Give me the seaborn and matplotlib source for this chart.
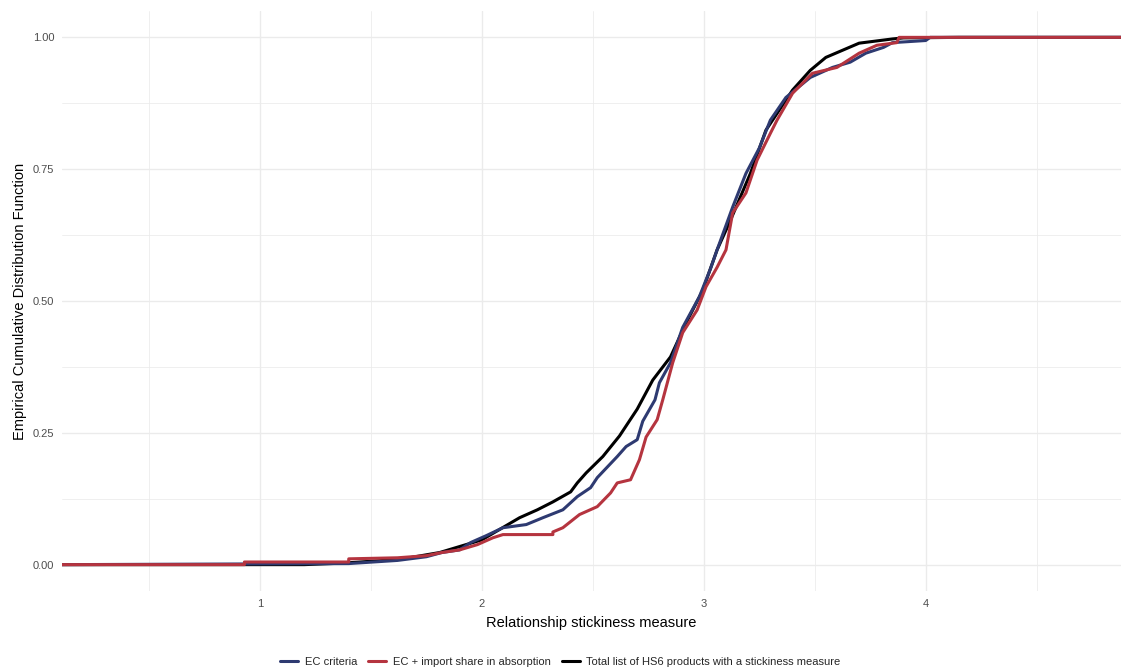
import numpy as np
import pandas as pd
import matplotlib
matplotlib.use("Agg")
import matplotlib.pyplot as plt
import seaborn as sns

# ECDF curve vertices (x = stickiness, y = cumulative share)
black_x = [1.20, 1.38, 1.63, 1.81, 2.00, 2.17, 2.25, 2.32, 2.40, 2.43, 2.47, 2.545, 2.62, 2.70,
           2.77, 2.85, 2.92, 2.995, 3.06, 3.12, 3.21, 3.28, 3.40, 3.48, 3.55, 3.70, 3.85, 3.90, 4.15]
black_y = [0.0, 0.003, 0.010, 0.023, 0.047, 0.089, 0.104, 0.119, 0.138, 0.155, 0.174, 0.205, 0.244, 0.295,
           0.35, 0.394, 0.458, 0.52, 0.597, 0.653, 0.742, 0.824, 0.90, 0.9375, 0.962, 0.989, 0.997, 0.999, 1.0]

blue_x = [1.40, 1.62, 1.75, 1.82, 1.90, 1.95, 2.02, 2.095, 2.20, 2.275, 2.365, 2.43, 2.49, 2.52, 2.61,
          2.65, 2.70, 2.725, 2.78, 2.80, 2.85, 2.905, 2.98, 3.03, 3.06, 3.13, 3.19, 3.25, 3.30, 3.37,
          3.48, 3.58, 3.66, 3.73, 3.81, 3.85, 4.0, 4.02, 4.15]
blue_y = [0.002, 0.008, 0.015, 0.023, 0.028, 0.042, 0.055, 0.07, 0.076, 0.089, 0.104, 0.129, 0.146, 0.165, 0.205,
          0.224, 0.237, 0.272, 0.3125, 0.345, 0.383, 0.45, 0.508, 0.561, 0.597, 0.678, 0.742, 0.79, 0.843, 0.886,
          0.924, 0.943, 0.953, 0.97, 0.981, 0.99, 0.994, 1.0, 1.0]

red_x = [0.93, 0.93, 1.40, 1.40, 1.62, 1.75, 1.82, 1.90, 1.98, 2.05, 2.095, 2.32, 2.32, 2.365, 2.44, 2.52,
         2.58, 2.61, 2.67, 2.71, 2.74, 2.79, 2.815, 2.86, 2.905, 2.97, 3.01, 3.06, 3.10, 3.13, 3.19, 3.24,
         3.30, 3.33, 3.40, 3.49, 3.60, 3.70, 3.78, 3.87, 3.88]
red_y = [0.0, 0.005, 0.005, 0.011, 0.013, 0.017, 0.023, 0.028, 0.038, 0.051, 0.057, 0.057, 0.062, 0.07, 0.095, 0.11,
         0.136, 0.155, 0.161, 0.199, 0.242, 0.275, 0.3125, 0.383, 0.44, 0.483, 0.527, 0.564, 0.597, 0.667, 0.705, 0.767,
         0.818, 0.843, 0.894, 0.932, 0.943, 0.97, 0.985, 0.99, 1.0]

labels = ["EC criteria", "EC + import share in absorption",
          "Total list of HS6 products with a stickiness measure"]
colors = ["#2E3A71", "#B5343F", "#000000"]

x_ticks = [1, 2, 3, 4]
y_ticks = [0.0, 0.25, 0.5, 0.75, 1.0]
y_ticklabels = ["0.00", "0.25", "0.50", "0.75", "1.00"]
XLIM = (0.108, 4.88)
YLIM = (-0.05, 1.05)

sns.set_theme(style="whitegrid")
plt.rcParams['font.family'] = ['Liberation Sans', 'DejaVu Sans']

fig = plt.figure(figsize=(11.21, 6.69), dpi=100)
ax = fig.add_axes([62 / 1121, 1 - 591 / 669, 1 - 62 / 1121, (591 - 11) / 669])


def padded(xs, ys):
    return pd.DataFrame({"x": [XLIM[0]] + list(xs) + [XLIM[1]],
                         "y": [0.0] + list(ys) + [1.0]})


series = [
    (black_x, black_y, labels[2], colors[2]),
    (blue_x, blue_y, labels[0], colors[0]),
    (red_x, red_y, labels[1], colors[1]),
]
for xs, ys, lab, col in series:
    d = padded(xs, ys)
    sns.lineplot(data=d, x="x", y="y", ax=ax, color=col, linewidth=2.2,
                 estimator=None, sort=False, label=lab, legend=False)

ax.set_xlim(*XLIM)
ax.set_ylim(*YLIM)
ax.set_xticks(x_ticks)
ax.set_xticklabels([str(v) for v in x_ticks])
ax.set_yticks(y_ticks)
ax.set_yticklabels(y_ticklabels)
ax.set_xticks([0.5, 1.5, 2.5, 3.5, 4.5], minor=True)
ax.set_yticks([0.125, 0.375, 0.625, 0.875], minor=True)
ax.grid(which="major", color="#EBEBEB", linewidth=1.0)
ax.grid(which="minor", color="#EBEBEB", linewidth=0.55)
ax.set_facecolor("white")
for s in ax.spines.values():
    s.set_visible(False)
ax.tick_params(axis="both", which="both", length=0, labelsize=8, labelcolor="#4D4D4D")
ax.tick_params(axis="x", pad=5.5)
ax.tick_params(axis="y", pad=5.5)
ax.set_xlabel("Relationship stickiness measure", fontsize=10.5, color="black", labelpad=5)
ax.set_ylabel("Empirical Cumulative Distribution Function", fontsize=10.5, color="black", labelpad=4)

h, l = ax.get_legend_handles_labels()
hm = dict(zip(l, h))
fig.legend([hm[lab] for lab in labels], labels, loc="lower center", ncol=3, frameon=False,
           bbox_to_anchor=(0.5, -0.012), fontsize=8, handlelength=1.6, columnspacing=1.0,
           handletextpad=0.6)

fig.savefig("out.png", dpi=100)
